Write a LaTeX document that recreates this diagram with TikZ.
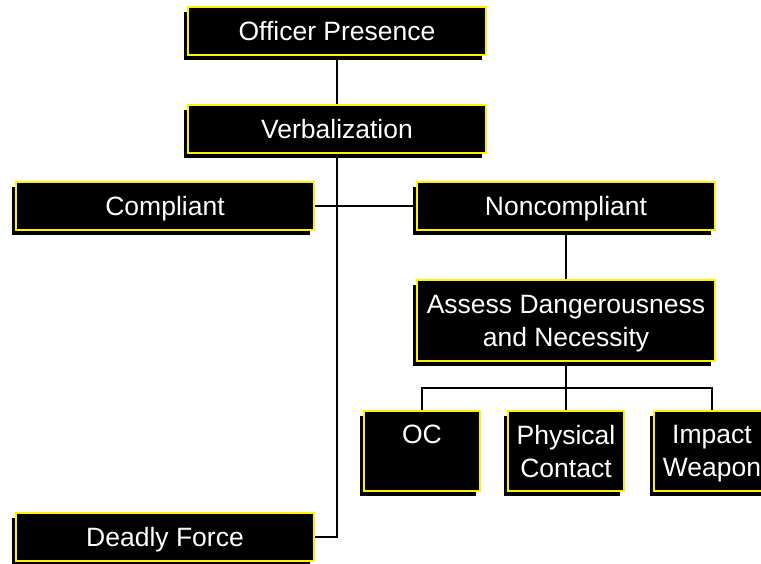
\documentclass[tikz,border=0pt]{standalone}
\usepackage{fontspec}
\setmainfont{Liberation Sans}
\usetikzlibrary{shadows}

\begin{document}
\begin{tikzpicture}[y=-1pt,x=1pt,
	box/.style={draw=yellow, line width=2pt, fill=black, text=white, align=center, inner sep=0pt,
		text depth=0pt, font=\fontsize{26.5}{33}\selectfont,
		drop shadow={shadow xshift=-4.5pt, shadow yshift=-4.5pt, fill=black, opacity=1}},
	widebox/.style={box, minimum width=298pt, minimum height=48pt},
	smallbox/.style={box, minimum width=116pt, minimum height=80pt},
	conn/.style={line width=1.6pt}]
	\useasboundingbox (0,0) rectangle (761,563);

	\node[widebox] (presence) at (337,31) {Officer Presence};
	\node[widebox] (verbal) at (337,129) {Verbalization};
	\node[widebox] (compliant) at (165,206) {Compliant};
	\node[widebox] (noncompliant) at (566,206) {Noncompliant};
	\node[widebox, minimum height=81pt] (assess) at (566,320.5) {Assess Dangerousness\\and Necessity};
	\node[smallbox] (oc) at (422,451) {OC\\~};
	\node[smallbox] (physical) at (566,451) {Physical\\Contact};
	\node[smallbox] (impact) at (712,451) {Impact\\Weapon};
	\node[widebox] (deadly) at (165,537) {Deadly Force};

	% connectors
	\coordinate (fork) at (566,388);
	\draw[conn] (presence) -- (verbal);
	\draw[conn] (verbal.south) |- (deadly.east);
	\draw[conn] (compliant) -- (noncompliant);
	\draw[conn] (noncompliant) -- (assess);
	\draw[conn] (assess.south) -- (fork);
	\draw[conn] (oc.north) |- (fork) -| (impact.north);
	\draw[conn] (fork) -- (physical.north);

\end{tikzpicture}
\end{document}
